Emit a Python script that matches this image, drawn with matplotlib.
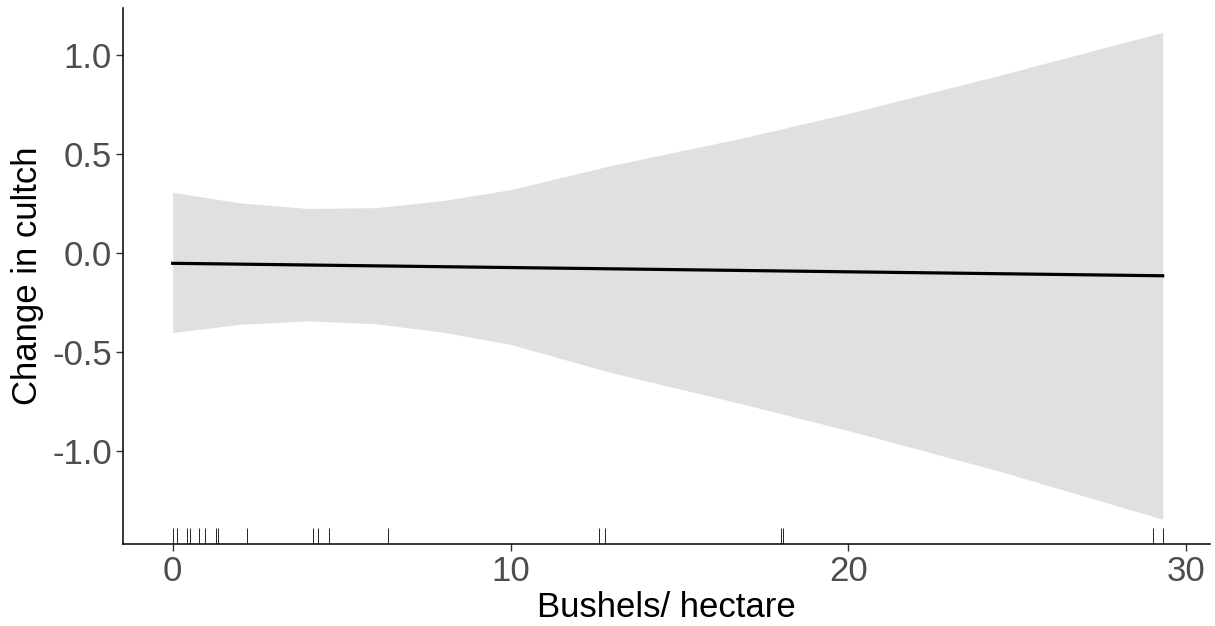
import matplotlib
matplotlib.use("Agg")
import matplotlib.pyplot as plt

# fitted effect of bushels/hectare on change in cultch
fit_x = [0.0, 29.3]
fit_y = [-0.052, -0.115]

# confidence band
band_x = [0, 2, 4, 6, 8, 10, 13, 16.8, 20, 24.5, 29.3]
band_upper = [0.307, 0.253, 0.225, 0.229, 0.265, 0.32, 0.443, 0.579, 0.705, 0.899, 1.115]
band_lower = [-0.402, -0.36, -0.343, -0.357, -0.40, -0.462, -0.605, -0.76, -0.897, -1.104, -1.345]

# observed x values shown as a rug
rug_x = [0, 0.12, 0.44, 0.51, 0.77, 0.97, 1.28, 1.33, 2.19, 4.15, 4.29, 4.64,
         6.37, 12.61, 12.80, 18.0, 18.07, 29.01, 29.30]

x_ticks = [0, 10, 20, 30]
y_ticks = [-1.0, -0.5, 0.0, 0.5, 1.0]

plt.rcParams['font.family'] = ['Liberation Sans', 'DejaVu Sans']

fig = plt.figure(figsize=(12.15, 6.26), dpi=100)
ax = fig.add_axes([0.1012, 0.131, 0.8947, 0.856])

ax.fill_between(band_x, band_lower, band_upper, color='#e0e0e0', linewidth=0)
ax.plot(fit_x, fit_y, color='black', linewidth=2.3)
ax.vlines(rug_x, 0, 0.03, transform=ax.get_xaxis_transform(),
          color='black', linewidth=0.6)

ax.set_xlim(-1.47, 30.7)
ax.set_ylim(-1.47, 1.237)
ax.set_xticks(x_ticks)
ax.set_xticklabels([str(t) for t in x_ticks])
ax.set_yticks(y_ticks)
ax.set_yticklabels(['-1.0', '-0.5', '0.0', '0.5', '1.0'])

for side in ['top', 'right']:
    ax.spines[side].set_visible(False)
for side in ['left', 'bottom']:
    ax.spines[side].set_linewidth(1.1)
    ax.spines[side].set_color('black')

ax.tick_params(axis='both', length=5, width=1, color='#333333',
               labelsize=25, labelcolor='#4d4d4d', pad=3)

ax.set_xlabel('Bushels/ hectare', fontsize=25, color='black', labelpad=2)
ax.set_ylabel('Change in cultch', fontsize=25, color='black', labelpad=6)

fig.savefig('out.png', dpi=100)
